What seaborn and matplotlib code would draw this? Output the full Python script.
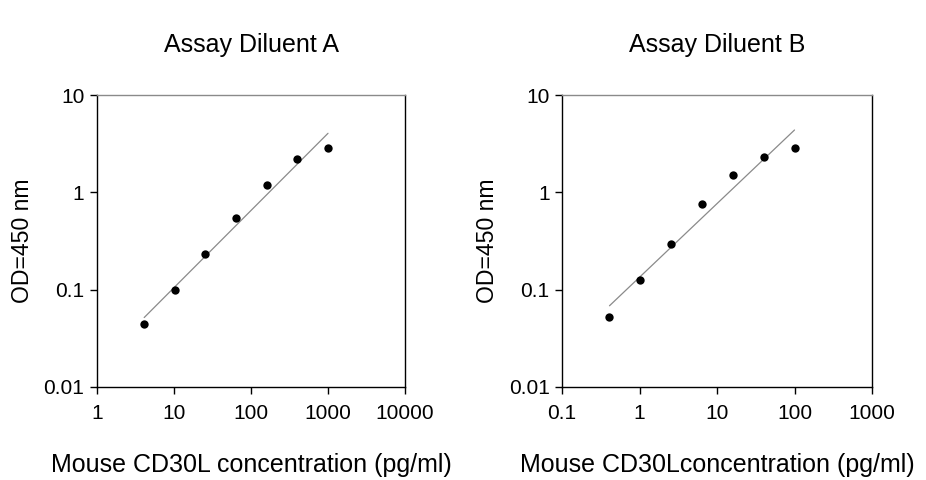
import numpy as np
import pandas as pd
import matplotlib
matplotlib.use("Agg")
import matplotlib.pyplot as plt
import seaborn as sns
from matplotlib.ticker import FixedLocator, FixedFormatter, NullLocator

sns.set_style("white")
plt.rcParams['font.family'] = ['Liberation Sans', 'DejaVu Sans']
plt.rcParams['text.color'] = 'black'
plt.rcParams['axes.labelcolor'] = 'black'
plt.rcParams['xtick.color'] = 'black'
plt.rcParams['ytick.color'] = 'black'

# Data
conc_a = [4.1, 10.24, 25.6, 64, 160, 400, 1000]
od_a = [0.044, 0.100, 0.234, 0.54, 1.18, 2.22, 2.86]
conc_b = [0.41, 1.024, 2.56, 6.4, 16, 40, 100]
od_b = [0.053, 0.126, 0.293, 0.75, 1.51, 2.29, 2.86]

titles = ["Assay Diluent A", "Assay Diluent B"]
xlabels = ["Mouse CD30L concentration (pg/ml)", "Mouse CD30Lconcentration (pg/ml)"]
ylabel = "OD=450 nm"
xticks_a = [1, 10, 100, 1000, 10000]
xticklabels_a = ["1", "10", "100", "1000", "10000"]
xticks_b = [0.1, 1, 10, 100, 1000]
xticklabels_b = ["0.1", "1", "10", "100", "1000"]
yticks = [0.01, 0.1, 1, 10]
yticklabels = ["0.01", "0.1", "1", "10"]

fig = plt.figure(figsize=(9.26, 4.8), dpi=100)
ax_a = fig.add_axes([97/926, 93/480, 308/926, 292/480])
ax_b = fig.add_axes([562/926, 93/480, 310/926, 292/480])

panels = [
    (ax_a, conc_a, od_a, xticks_a, xticklabels_a, titles[0], xlabels[0]),
    (ax_b, conc_b, od_b, xticks_b, xticklabels_b, titles[1], xlabels[1]),
]

for ax, xs, ys, xt, xtl, title, xlabel in panels:
    df = pd.DataFrame({"x": xs, "y": ys})
    lx, ly = np.log10(df["x"]), np.log10(df["y"])
    slope, intercept = np.polyfit(lx, ly, 1)
    fit_x = np.array([min(xs), max(xs)])
    fit = pd.DataFrame({"x": fit_x, "y": 10 ** (intercept + slope * np.log10(fit_x))})
    ax.set_xscale("log")
    ax.set_yscale("log")
    sns.lineplot(data=fit, x="x", y="y", ax=ax, color="#8a8a8a", linewidth=0.9)
    sns.scatterplot(data=df, x="x", y="y", ax=ax, color="black", s=36,
                    edgecolor="black", linewidth=0, zorder=3)
    ax.set_xlim(xt[0], xt[-1])
    ax.set_ylim(yticks[0], yticks[-1])
    ax.xaxis.set_major_locator(FixedLocator(xt))
    ax.xaxis.set_major_formatter(FixedFormatter(xtl))
    ax.xaxis.set_minor_locator(NullLocator())
    ax.yaxis.set_major_locator(FixedLocator(yticks))
    ax.yaxis.set_major_formatter(FixedFormatter(yticklabels))
    ax.yaxis.set_minor_locator(NullLocator())
    ax.tick_params(axis="both", which="major", direction="out", length=5,
                   width=1, color="black", labelcolor="black", labelsize=15, pad=4,
                   bottom=True, left=True, top=False, right=False)
    ax.tick_params(axis="x", pad=7)
    for side in ["left", "bottom", "right"]:
        ax.spines[side].set_color("black")
        ax.spines[side].set_linewidth(1.0)
        ax.spines[side].set_visible(True)
    ax.spines["top"].set_color("#8a8a8a")
    ax.spines["top"].set_linewidth(1.0)
    ax.spines["top"].set_visible(True)
    ax.set_title(title, fontsize=18, pad=31, color="black")
    ax.set_xlabel(xlabel, fontsize=18, labelpad=22, color="black")
    ax.set_ylabel(ylabel, fontsize=16.6, labelpad=7, color="black")

fig.savefig("out.png", dpi=100)
